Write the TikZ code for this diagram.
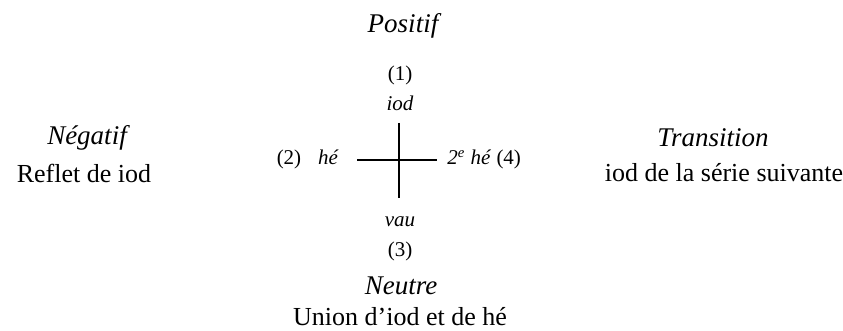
\documentclass[tikz,border=0pt]{standalone}
\usepackage{fontspec}
\setmainfont{Liberation Serif}
\usepackage{tikz}
\usetikzlibrary{positioning}
\tikzset{
	title/.style  ={font=\fontsize{13.5}{15}\selectfont\itshape, inner sep=0pt},
	gloss/.style  ={font=\fontsize{13}{15}\selectfont, inner sep=0pt},
	pole/.style   ={font=\fontsize{10.5}{12}\selectfont\itshape, inner sep=0pt},
	num/.style    ={font=\fontsize{10.5}{12}\selectfont, inner sep=0pt},
	armline/.style={line width=0.7pt},
}
\begin{document}
\begin{tikzpicture}[x=0.5pt, y=-0.5pt]
	\useasboundingbox (0,0) rectangle (843,331);
	% top and bottom poles
	\node[title] (pos) at (403,26) {Positif};
	\node[num]  (n1)  at (400,75) {(1)};
	\node[pole] (iod) at (400,103) {iod};
	\node[pole] (vau) at (400,222) {vau};
	\node[num]  (n3)  at (400,251) {(3)};
	\node[title] (neu) at (401,286) {Neutre};
	\node[gloss] (uni) at (400,317) {Union d’iod et de hé};
	% left and right poles
	\node[num, anchor=base]  (n2) at (289,165) {(2)};
	\node[pole, anchor=base] (he) at (328,165) {hé};
	\node[anchor=base west, inner sep=0pt] (he2) at (447,165)
		{\fontsize{10.5}{12}\selectfont\textit{2\textsuperscript{e} hé} (4)};
	\node[title] (neg) at (87,138) {Négatif};
	\node[gloss] (ref) at (84,173) {Reflet de iod};
	\node[title] (tra) at (713,138) {Transition};
	\node[gloss] (sui) at (724,173) {iod de la série suivante};
	% cross
	\coordinate (ctop) at (399,123);
	\coordinate (cbot) at (399,198);
	\coordinate (cl) at (357,160);
	\coordinate (cr) at (437,160);
	\draw[armline] (ctop) -- (cbot);
	\draw[armline] (cl) -- (cr);
\end{tikzpicture}
\end{document}
